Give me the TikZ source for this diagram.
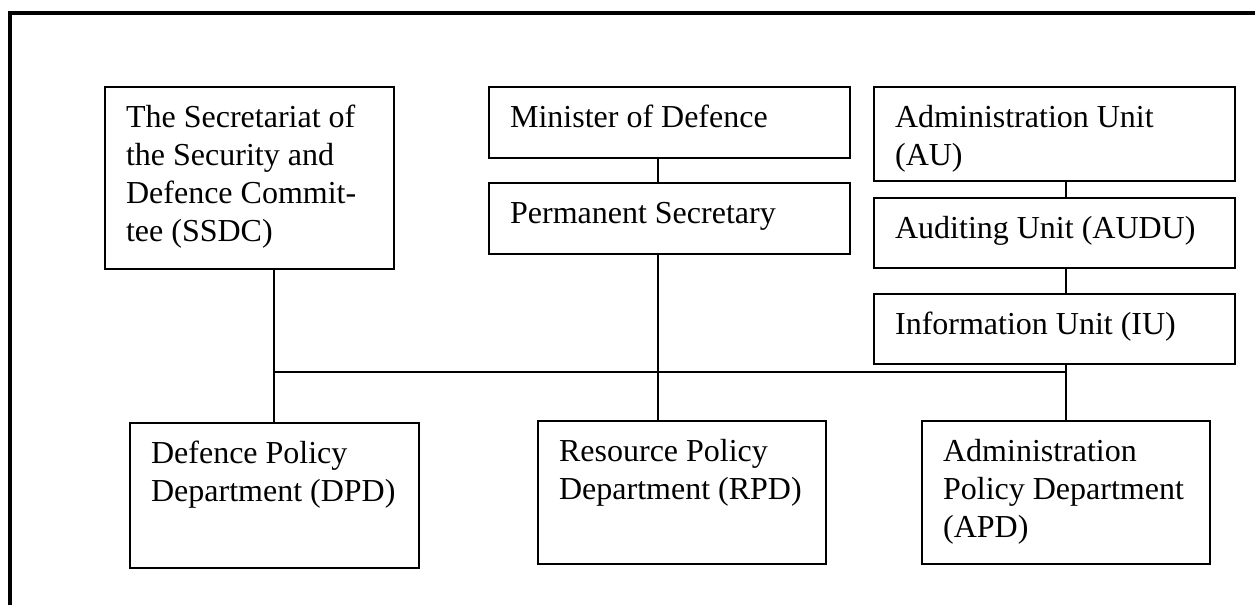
\documentclass[tikz,border=0pt]{standalone}
\usepackage{fontspec}
\setmainfont{Liberation Serif}
\usetikzlibrary{positioning, calc}

% box text: width, height (in px of the layout), lines
\newcommand{\unittext}[3]{\parbox[c][\dimexpr#2pt/2\relax][t]{\dimexpr#1pt/2\relax}{\fontsize{16}{19}\selectfont\raggedright\leftskip=10.5pt\rule{0pt}{20pt}#3}}

\begin{document}
\begin{tikzpicture}[x=0.5pt, y=-0.5pt,
		unit/.style={draw,line width=1.1pt,anchor=north west,inner sep=0pt},
		link/.style={line width=1pt},
		frame/.style={line width=2pt}
		]
		\useasboundingbox (0,0) rectangle (1255,605);
		\draw [frame] (10,605) -- (10,13) -- (1255,13);

		\node (ssdc) [unit] at (104,86) {\unittext{289}{182}{The Secretariat of\\the Security and\\Defence Commit-\\tee (SSDC)}};
		\node (minister) [unit] at (488,86) {\unittext{361}{71}{Minister of Defence}};
		\node (permanent) [unit] at (488,182) {\unittext{361}{71}{Permanent Secretary}};
		\node (au) [unit] at (873,86) {\unittext{361}{94}{Administration Unit\\(AU)}};
		\node (audu) [unit] at (873,197) {\unittext{361}{70}{Auditing Unit (AUDU)}};
		\node (iu) [unit] at (873,293) {\unittext{361}{70}{Information Unit (IU)}};
		\node (dpd) [unit] at (129,422) {\unittext{289}{145}{Defence Policy\\Department (DPD)}};
		\node (rpd) [unit] at (537,420) {\unittext{288}{143}{Resource Policy\\Department (RPD)}};
		\node (apd) [unit] at (921,420) {\unittext{288}{143}{Administration\\Policy Department\\(APD)}};

		\coordinate (dpdjoin) at (274,372);
		\coordinate (rpdjoin) at (658,372);
		\coordinate (apdjoin) at (1066,372);

		\draw [link] (ssdc.south -| dpdjoin) -- (dpd.north -| dpdjoin);
		\draw [link] (minister.south -| rpdjoin) -- (permanent.north -| rpdjoin);
		\draw [link] (permanent.south -| rpdjoin) -- (rpd.north -| rpdjoin);
		\draw [link] (au.south -| apdjoin) -- (audu.north -| apdjoin);
		\draw [link] (audu.south -| apdjoin) -- (iu.north -| apdjoin);
		\draw [link] (iu.south -| apdjoin) -- (apd.north -| apdjoin);
		\draw [link] (dpdjoin) -- (apdjoin);
	\end{tikzpicture}
\end{document}
